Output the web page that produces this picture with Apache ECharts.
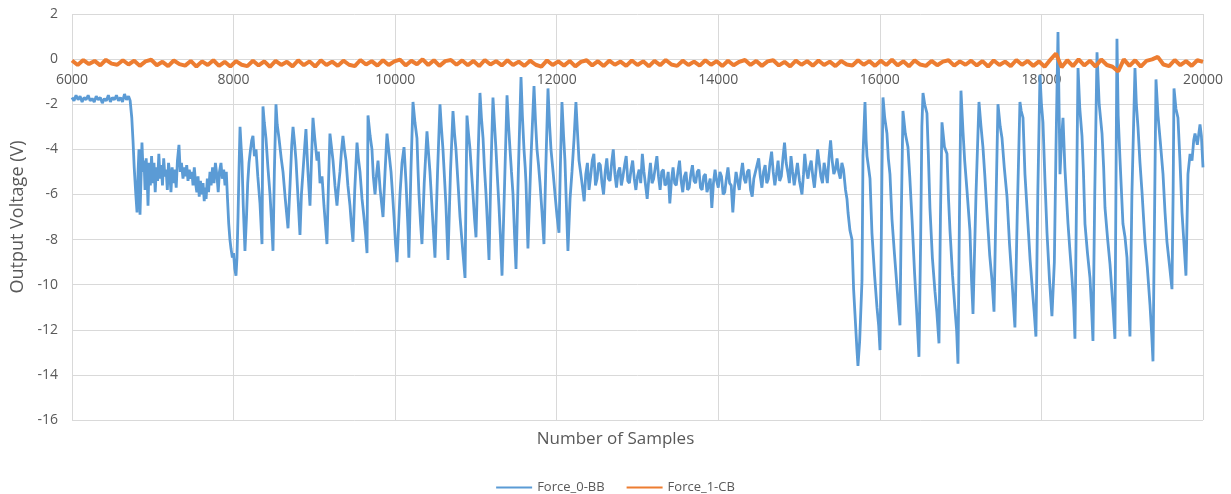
<!DOCTYPE html>
<html>
<head>
<meta charset="utf-8">
<script src="https://cdn.jsdelivr.net/npm/echarts@6/dist/echarts.min.js"></script>
<style>
  html, body { margin: 0; padding: 0; background: #fff; }
  #main { width: 1231px; height: 494px; }
</style>
</head>
<body>
<div id="main"></div>
<script>
// sample axis and voltage axis ticks
var sampleTicks = [6000, 8000, 10000, 12000, 14000, 16000, 18000, 20000];
var voltTicks = [2, 0, -2, -4, -6, -8, -10, -12, -14, -16];
var seriesNames = ['Force_0-BB', 'Force_1-CB'];

// Force_0-BB : [sample, volts]
var forceBB = [
  [6000,-1.7],[6025,-1.85],[6050,-1.6],[6075,-1.8],[6100,-1.65],[6125,-1.9],[6150,-1.7],[6175,-1.8],[6200,-1.6],[6225,-1.85],
  [6250,-1.75],[6275,-1.9],[6300,-1.65],[6325,-1.8],[6350,-1.7],[6375,-1.95],[6400,-1.75],[6425,-1.85],[6450,-1.6],[6475,-1.9],
  [6500,-1.7],[6525,-1.8],[6550,-1.6],[6575,-1.85],[6600,-1.7],[6625,-1.9],[6650,-1.55],[6675,-1.8],[6700,-1.65],[6720,-1.85],
  [6740,-2.6],[6755,-3.6],[6770,-4.8],[6790,-6.0],[6805,-6.8],[6818,-5.0],[6829,-4.0],[6836,-5.5],[6842,-6.9],[6855,-5.2],
  [6866,-3.7],[6880,-5.0],[6892,-4.5],[6904,-5.8],[6918,-4.4],[6930,-5.2],[6941,-6.5],[6955,-4.6],[6970,-5.6],[6985,-4.3],
  [7000,-5.5],[7015,-4.6],[7030,-5.9],[7045,-4.8],[7060,-5.4],[7075,-4.2],[7090,-5.3],[7105,-4.7],[7120,-5.6],[7135,-4.4],
  [7150,-5.2],[7165,-4.9],[7180,-5.8],[7195,-4.6],[7210,-5.1],[7225,-5.9],[7240,-4.8],[7255,-5.5],[7270,-4.9],[7290,-5.7],
  [7305,-4.5],[7324,-3.8],[7340,-5.0],[7355,-4.6],[7374,-5.3],[7390,-4.8],[7405,-5.2],[7420,-4.7],[7436,-5.4],[7452,-4.9],
  [7468,-5.3],[7484,-5.0],[7498,-5.6],[7514,-4.8],[7530,-5.5],[7545,-5.9],[7560,-5.2],[7575,-6.1],[7590,-5.4],[7606,-6.0],
  [7622,-5.5],[7637,-6.3],[7646,-5.7],[7660,-6.2],[7675,-5.3],[7690,-5.9],[7708,-5.0],[7722,-5.6],[7740,-4.8],[7758,-5.5],
  [7775,-4.6],[7795,-5.2],[7810,-5.9],[7825,-5.0],[7844,-4.6],[7860,-5.3],[7878,-4.9],[7894,-5.6],[7910,-5.0],[7925,-6.2],
  [7940,-7.3],[7955,-8.0],[7968,-8.4],[7985,-8.8],[8000,-8.6],[8015,-9.3],[8030,-9.6],[8042,-8.8],
  [8055,-7.0],[8068,-4.8],[8080,-3.0],[8092,-3.8],[8104,-4.5],[8120,-6.5],[8141,-8.5],[8160,-7.0],[8175,-5.5],[8191,-4.6],
  [8210,-4.0],[8225,-3.6],[8240,-3.4],[8258,-4.3],[8278,-4.0],[8300,-5.2],[8327,-6.4],[8352,-8.2],[8358,-5.0],[8364,-2.1],
  [8380,-2.8],[8401,-3.5],[8425,-4.8],[8451,-6.0],[8470,-7.2],[8488,-8.5],[8505,-5.0],[8525,-2.0],[8540,-2.9],[8562,-3.5],
  [8590,-4.4],[8612,-5.0],[8640,-6.2],[8674,-7.5],[8700,-5.5],[8720,-3.8],[8736,-3.0],[8755,-3.7],[8773,-4.5],[8800,-6.3],
  [8822,-7.8],[8840,-6.0],[8859,-5.0],[8880,-3.9],[8896,-3.1],[8910,-4.2],[8921,-5.0],[8946,-6.5],[8965,-4.4],[8983,-2.6],
  [9005,-3.5],[9033,-4.5],[9050,-4.1],[9070,-5.5],[9095,-5.2],[9119,-6.5],[9156,-8.2],[9175,-5.5],[9193,-3.3],[9212,-3.9],
  [9231,-4.5],[9255,-5.6],[9280,-6.5],[9300,-5.6],[9317,-5.0],[9335,-4.1],[9354,-3.4],[9372,-4.0],[9392,-4.5],[9415,-5.6],
  [9441,-6.5],[9460,-7.4],[9478,-8.1],[9500,-5.8],[9528,-3.7],[9545,-4.4],[9565,-5.0],[9590,-6.2],[9614,-7.0],[9635,-7.8],
  [9652,-8.6],[9658,-5.5],[9664,-2.5],[9690,-3.4],[9713,-4.0],[9730,-5.2],[9751,-6.0],[9770,-5.1],[9788,-4.5],[9815,-5.8],
  [9850,-7.0],[9875,-5.0],[9899,-3.3],[9925,-4.2],[9949,-5.0],[9970,-6.1],[9986,-7.0],[10005,-8.2],[10023,-9.0],[10045,-7.2],
  [10060,-6.0],[10085,-4.6],[10110,-3.9],[10135,-5.5],[10160,-7.6],[10170,-8.8],[10195,-5.0],[10221,-1.9],[10245,-2.8],[10270,-3.5],
  [10282,-4.8],[10295,-6.0],[10315,-7.3],[10332,-8.2],[10360,-5.5],[10394,-3.2],[10412,-4.1],[10431,-5.0],[10460,-6.8],[10493,-8.8],
  [10525,-5.0],[10555,-2.0],[10572,-3.0],[10592,-4.0],[10610,-5.2],[10629,-6.5],[10654,-8.9],[10685,-5.0],[10716,-2.3],[10735,-3.3],
  [10753,-4.0],[10780,-5.6],[10803,-7.0],[10835,-8.4],[10865,-9.7],[10877,-6.0],[10889,-2.5],[10908,-3.3],[10927,-4.0],[10945,-5.0],
  [10964,-6.0],[10983,-7.1],[11001,-7.9],[11025,-4.5],[11050,-1.5],[11068,-2.6],[11088,-3.5],[11105,-4.8],[11125,-6.0],[11145,-7.5],
  [11162,-8.9],[11185,-5.0],[11211,-1.7],[11230,-2.9],[11248,-4.0],[11265,-5.2],[11285,-6.5],[11305,-8.0],[11323,-9.6],[11355,-5.5],
  [11385,-1.6],[11405,-3.0],[11422,-4.0],[11440,-5.0],[11459,-6.0],[11478,-7.8],[11496,-9.3],[11525,-5.0],[11558,-0.8],[11575,-2.5],
  [11595,-4.0],[11610,-4.8],[11620,-5.5],[11632,-7.0],[11644,-8.4],[11680,-4.5],[11719,-1.2],[11738,-2.8],[11756,-4.0],[11775,-4.7],
  [11793,-5.5],[11818,-6.8],[11842,-8.2],[11865,-4.8],[11892,-1.3],[11910,-2.8],[11929,-4.0],[11955,-5.0],[11979,-6.0],[12005,-7.0],
  [12028,-7.7],[12045,-4.8],[12065,-1.9],[12085,-3.4],[12102,-4.5],[12120,-6.5],[12139,-8.5],[12165,-6.2],[12189,-5.0],[12215,-3.5],
  [12238,-1.9],[12258,-3.3],[12276,-4.5],[12295,-5.0],[12313,-5.5],
  [12340,-6.3],[12360,-5.1],[12380,-4.6],[12400,-5.8],[12420,-5.2],[12440,-4.5],[12460,-4.2],[12480,-5.6],[12500,-5.3],[12520,-4.6],
  [12540,-4.7],[12560,-5.5],[12580,-6.0],[12600,-5.0],[12620,-4.4],[12640,-5.3],[12660,-5.4],[12680,-4.6],[12700,-4.0],[12720,-5.1],
  [12740,-5.7],[12760,-5.0],[12780,-4.8],[12800,-5.6],[12820,-5.2],[12840,-4.7],[12860,-4.3],[12880,-5.4],[12900,-5.5],[12920,-4.9],
  [12940,-4.5],[12960,-5.3],[12980,-5.8],[13000,-5.2],[13020,-4.9],[13040,-5.5],[13060,-4.2],[13080,-5.0],[13100,-5.6],[13120,-6.2],
  [13140,-5.3],[13160,-4.6],[13180,-5.5],[13200,-5.3],[13220,-4.8],[13240,-4.3],[13260,-5.2],[13280,-5.8],[13300,-5.0],[13320,-4.9],
  [13340,-5.6],[13360,-5.5],[13380,-5.0],[13400,-6.4],[13420,-5.4],[13440,-4.8],[13460,-5.5],[13480,-5.6],[13500,-5.0],[13520,-4.5],
  [13540,-5.4],[13560,-5.9],[13580,-5.2],[13600,-5.0],[13620,-5.8],[13640,-5.7],[13660,-5.1],[13680,-4.7],[13700,-5.4],[13720,-5.5],
  [13740,-5.0],[13760,-4.9],[13780,-5.7],[13800,-5.8],[13820,-5.2],[13840,-5.1],[13860,-5.9],[13880,-5.6],[13900,-5.3],[13920,-6.6],
  [13940,-5.5],[13960,-4.9],[13980,-5.4],[14000,-5.7],[14020,-5.0],[14040,-5.2],[14060,-6.0],[14080,-5.9],[14100,-5.3],[14120,-4.8],
  [14140,-5.5],[14160,-5.6],[14180,-6.8],[14200,-5.7],[14220,-5.0],[14240,-5.4],[14260,-5.8],[14280,-5.1],[14300,-4.6],[14320,-5.3],
  [14340,-5.5],[14360,-5.0],[14380,-4.9],[14400,-5.8],[14420,-6.1],[14440,-5.3],[14460,-5.0],[14480,-4.7],[14500,-4.4],[14520,-5.2],
  [14540,-5.7],[14560,-5.0],[14580,-4.7],[14600,-5.5],[14620,-5.3],[14640,-4.6],[14660,-4.1],[14680,-5.0],[14700,-5.6],[14720,-5.1],
  [14740,-4.5],[14760,-5.4],[14780,-5.2],[14800,-4.4],[14820,-3.7],[14840,-4.6],[14860,-5.0],[14880,-5.5],[14900,-4.3],[14920,-5.0],
  [14940,-5.6],[14960,-5.1],[14980,-4.6],[15005,-5.4],[15036,-6.0],[15055,-5.1],[15070,-4.2],[15090,-4.9],[15110,-5.3],[15130,-4.8],
  [15150,-4.5],[15170,-5.2],[15190,-5.7],[15210,-4.9],[15230,-4.0],[15250,-4.6],[15270,-5.2],[15290,-5.5],[15310,-4.6],[15330,-5.0],
  [15350,-5.5],[15370,-4.4],[15390,-3.6],[15410,-4.5],[15430,-5.1],[15450,-4.9],[15470,-4.4],[15490,-5.0],[15510,-5.3],[15530,-4.6],
  [15550,-4.9],[15575,-5.8],
  [15593,-6.2],[15606,-6.8],[15630,-7.6],[15655,-8.0],[15675,-10.2],[15692,-11.3],[15715,-12.8],[15729,-13.6],[15750,-12.5],[15779,-9.8],
  [15791,-4.3],[15816,-1.9],[15830,-3.6],[15841,-4.3],[15860,-4.8],[15878,-5.3],[15902,-7.7],[15935,-9.6],[15964,-11.0],[15985,-11.8],
  [16002,-12.9],[16015,-9.0],[16026,-5.0],[16039,-1.7],[16060,-2.6],[16088,-3.3],[16105,-4.4],[16125,-5.1],[16150,-7.1],[16180,-8.6],
  [16212,-10.1],[16235,-11.2],[16249,-11.8],[16265,-7.0],[16286,-2.3],[16315,-3.3],[16348,-3.9],[16370,-5.2],[16398,-7.1],[16430,-9.5],
  [16459,-11.4],[16484,-13.2],[16505,-8.0],[16520,-3.0],[16534,-1.5],[16555,-2.0],[16583,-2.4],[16600,-4.2],[16620,-6.6],[16650,-8.8],
  [16682,-10.3],[16705,-11.2],[16732,-12.6],[16750,-7.0],[16769,-2.8],[16800,-3.9],[16831,-4.2],[16850,-6.2],[16868,-7.6],[16900,-9.6],
  [16930,-11.1],[16950,-12.0],[16967,-13.5],[16985,-7.0],[17004,-1.4],[17029,-3.2],[17050,-4.5],[17078,-5.8],[17115,-7.6],[17135,-9.8],
  [17153,-11.3],[17190,-6.0],[17227,-1.9],[17250,-2.9],[17276,-3.9],[17300,-5.2],[17326,-6.8],[17360,-8.7],[17388,-9.8],[17413,-11.2],
  [17440,-6.0],[17462,-2.0],[17490,-3.0],[17512,-3.5],[17540,-4.8],[17574,-6.1],[17605,-8.2],[17635,-9.8],[17672,-11.9],[17700,-7.0],
  [17734,-1.9],[17750,-2.3],[17772,-2.6],[17796,-5.1],[17833,-7.3],[17860,-8.9],[17883,-10.0],[17910,-11.2],[17932,-12.3],[17955,-6.0],
  [17982,-0.7],[18000,-2.0],[18019,-2.8],[18045,-5.5],[18069,-7.7],[18100,-9.8],[18130,-11.4],[18160,-9.0],[18180,-4.0],[18205,1.2],
  [18218,-2.0],[18230,-5.1],[18250,-3.5],[18267,-2.6],[18290,-4.8],[18329,-7.3],[18355,-8.6],[18378,-9.7],[18400,-11.0],[18415,-12.4],
  [18435,-6.0],[18453,-0.4],[18475,-2.2],[18502,-3.4],[18520,-5.0],[18539,-7.3],[18570,-8.6],[18601,-9.7],[18620,-11.0],[18638,-12.5],
  [18660,-6.0],[18688,0.3],[18715,-2.0],[18750,-3.3],[18770,-4.8],[18787,-6.6],[18820,-8.0],[18849,-9.1],[18886,-11.0],[18910,-12.4],
  [18922,-6.0],[18935,0.9],[18950,-2.5],[18972,-4.4],[19009,-7.3],[19035,-7.9],[19059,-8.8],[19080,-10.8],[19096,-12.3],[19120,-6.0],
  [19158,-0.4],[19175,-2.0],[19195,-3.0],[19220,-4.6],[19245,-5.9],[19282,-8.1],[19310,-9.2],[19344,-10.9],[19365,-12.2],[19381,-13.4],
  [19400,-7.0],[19418,-0.9],[19443,-2.5],[19470,-3.6],[19505,-5.1],[19530,-6.8],[19554,-8.1],[19590,-9.3],[19616,-10.2],[19630,-6.0],
  [19641,-1.3],[19665,-2.2],[19690,-2.6],[19715,-4.5],[19740,-6.8],[19765,-8.2],[19789,-9.6],[19814,-5.1],[19840,-4.2],[19864,-4.5],
  [19885,-3.6],[19901,-3.3],[19930,-3.8],[19963,-2.9],[19980,-3.4],[20000,-4.8]
];

// Force_1-CB : one reading every 70 samples from 6000
var cbStart = 6000;
var cbStep = 70;
var forceCB = [
  -0.06,-0.26,-0.04,-0.22,-0.08,-0.28,-0.03,-0.2,-0.25,-0.05,
  -0.24,-0.07,-0.3,-0.1,-0.03,-0.27,-0.12,-0.31,-0.06,-0.22,
  -0.29,-0.08,-0.33,-0.1,-0.26,-0.05,-0.3,-0.12,-0.33,-0.09,
  -0.25,-0.31,-0.07,-0.28,-0.1,-0.34,-0.08,-0.26,-0.12,-0.32,
  -0.05,-0.27,-0.1,-0.33,-0.05,-0.26,-0.11,-0.3,-0.07,-0.25,
  -0.31,-0.04,-0.24,-0.09,-0.29,-0.05,-0.26,-0.1,-0.02,-0.28,
  -0.07,-0.23,-0.01,-0.26,-0.05,-0.3,-0.09,-0.04,-0.25,-0.06,
  -0.27,-0.08,-0.31,-0.04,-0.24,-0.09,-0.28,-0.05,-0.26,-0.11,
  -0.3,-0.07,-0.25,-0.33,-0.06,-0.26,-0.1,-0.29,-0.08,-0.32,
  -0.12,-0.05,-0.28,-0.09,-0.31,-0.07,-0.25,-0.11,-0.3,-0.06,
  -0.26,-0.1,-0.32,-0.08,-0.27,-0.04,-0.24,-0.3,-0.07,-0.26,
  -0.11,-0.29,-0.05,-0.25,-0.09,-0.31,-0.07,-0.27,-0.12,-0.04,
  -0.26,-0.08,-0.3,-0.1,-0.05,-0.28,-0.12,-0.32,-0.07,-0.25,
  -0.09,-0.29,-0.06,-0.26,-0.11,-0.31,-0.08,-0.24,-0.28,-0.05,
  -0.25,-0.09,-0.3,-0.07,-0.26,-0.03,-0.28,-0.1,-0.32,-0.06,
  -0.24,-0.3,-0.08,-0.27,-0.11,-0.05,-0.29,-0.1,-0.25,-0.07,
  -0.28,-0.09,-0.33,-0.06,-0.26,-0.11,-0.31,-0.04,-0.25,-0.08,
  -0.3,-0.1,-0.34,-0.03,0.25,-0.36,-0.05,-0.31,-0.01,-0.28,
  -0.07,-0.33,-0.02,-0.26,-0.34,-0.55,-0.01,-0.3,-0.05,-0.33,
  -0.08,-0.01,0.1,-0.24,-0.31,-0.04,-0.27,-0.09,-0.3,-0.05,
  -0.12
];

var cbData = forceCB.map(function (v, i) { return [cbStart + i * cbStep, v]; });

var chart = echarts.init(document.getElementById('main'), null, { renderer: 'canvas' });

var font = '"Open Sans", "Liberation Sans", sans-serif';
var gridColor = '#d9d9d9';
var textColor = '#595959';

var option = {
  animation: false,
  backgroundColor: '#ffffff',
  title: {
    text: 'Number of Samples',
    left: 'center',
    top: 426,
    textStyle: { fontFamily: font, fontSize: 17, fontWeight: 'normal', color: textColor }
  },
  legend: {
    data: seriesNames,
    left: 'center',
    top: 476,
    icon: 'rect',
    itemWidth: 36,
    itemHeight: 2,
    itemGap: 22,
    textStyle: { fontFamily: font, fontSize: 13, color: textColor }
  },
  grid: { left: 72, right: 28, top: 14, bottom: 74, containLabel: false },
  xAxis: {
    // labels sit just under the 0 V line, as in the picture
    type: 'value',
    position: 'top',
    min: sampleTicks[0],
    max: sampleTicks[sampleTicks.length - 1],
    interval: 2000,
    axisLine: { show: false },
    axisTick: { show: false },
    axisLabel: {
      inside: true,
      margin: 59,
      fontFamily: font,
      fontSize: 14,
      color: textColor,
      formatter: function (v) { return String(v); }
    },
    splitLine: { show: true, lineStyle: { color: gridColor, width: 1 } }
  },
  yAxis: {
    type: 'value',
    min: voltTicks[voltTicks.length - 1],
    max: voltTicks[0],
    interval: 2,
    name: 'Output Voltage (V)',
    nameLocation: 'middle',
    nameGap: 44,
    nameTextStyle: { fontFamily: font, fontSize: 18, color: textColor },
    axisLine: { show: false },
    axisTick: { show: false },
    axisLabel: { margin: 14, fontFamily: font, fontSize: 14, color: textColor },
    splitLine: { show: true, lineStyle: { color: gridColor, width: 1 } }
  },
  series: [
    {
      name: seriesNames[0],
      type: 'line',
      data: forceBB,
      showSymbol: false,
      sampling: null,
      lineStyle: { color: '#5b9bd5', width: 2.8 },
      itemStyle: { color: '#5b9bd5' }
    },
    {
      name: seriesNames[1],
      type: 'line',
      data: cbData,
      showSymbol: false,
      lineStyle: { color: '#ed7d31', width: 4 },
      itemStyle: { color: '#ed7d31' }
    }
  ]
};

chart.setOption(option);
</script>
</body>
</html>
